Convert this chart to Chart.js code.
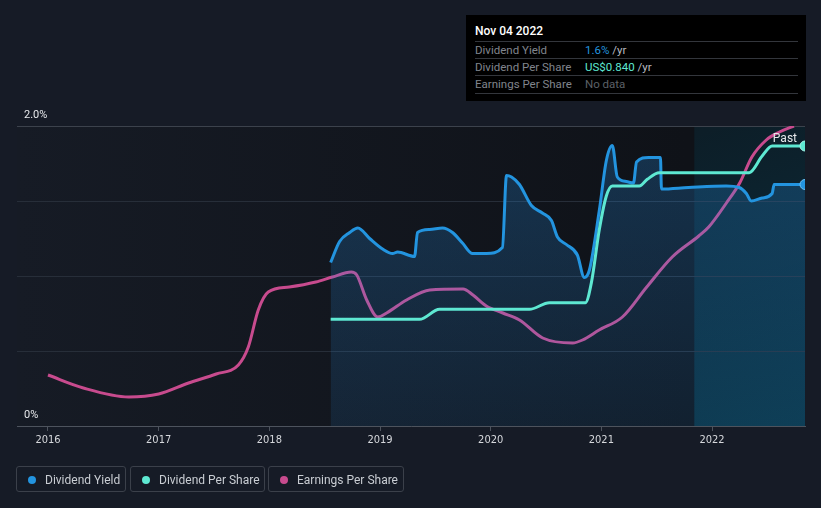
<!DOCTYPE html>
<html>
<head>
<meta charset="utf-8">
<script src="https://cdn.jsdelivr.net/npm/chart.js@4.4.1/dist/chart.umd.min.js"></script>
<style>
  body { margin: 0; background: #161b26; font-family: Roboto, "Noto Sans", sans-serif; }
  #wrap { position: relative; width: 821px; height: 508px; }
  #chart { position: absolute; left: 0; top: 0; }
  #tip { position: absolute; left: 466px; top: 15px; width: 340px; height: 86px; background: #000; }
  #tip .title { position: absolute; left: 9px; top: 9px; color: #fff; font-size: 12px; font-weight: 500; }
  #tip .row { position: absolute; left: 9px; width: 323px; height: 17px; border-top: 1px solid #33363c; font-size: 11.5px; line-height: 17px; }
  #tip .lab { position: absolute; left: 0; color: #80858d; }
  #tip .val { position: absolute; left: 110px; color: #b8bcc2; }
  .legend { position: absolute; top: 466px; height: 26px; border: 1px solid #3b404a; border-radius: 3px; color: #c9cdd3; font-size: 12px; line-height: 26px; box-sizing: border-box; }
  .legend i { position: absolute; left: 11px; top: 9px; width: 8px; height: 8px; border-radius: 50%; }
  .legend span { position: absolute; left: 28px; }
</style>
</head>
<body>
<div id="wrap">
  <canvas id="chart" width="821" height="508"></canvas>
  <div id="tip">
    <div class="title">Nov 04 2022</div>
    <div class="row" style="top:26px"><span class="lab">Dividend Yield</span><span class="val"><b style="font-weight:400;color:#2394df">1.6%</b> /yr</span></div>
    <div class="row" style="top:43px"><span class="lab">Dividend Per Share</span><span class="val"><b style="font-weight:400;color:#5ee8d2">US$0.840</b> /yr</span></div>
    <div class="row" style="top:60px; border-bottom:1px solid #33363c"><span class="lab">Earnings Per Share</span><span class="val" style="color:#5c6067">No data</span></div>
  </div>
  <div class="legend" style="left:16px;width:110px"><i style="background:#2394df"></i><span>Dividend Yield</span></div>
  <div class="legend" style="left:130px;width:135px"><i style="background:#5ee8d2"></i><span>Dividend Per Share</span></div>
  <div class="legend" style="left:268px;width:136px"><i style="background:#c84b8e"></i><span>Earnings Per Share</span></div>
</div>
<script>
// dividend yield (%)
const yieldYears = [2018.554, 2018.635, 2018.726, 2018.80, 2018.906, 2019.023, 2019.114, 2019.159, 2019.312, 2019.339,
  2019.448, 2019.565, 2019.655, 2019.745, 2019.836, 2019.962, 2020.106, 2020.143, 2020.188, 2020.26,
  2020.368, 2020.467, 2020.549, 2020.603, 2020.684, 2020.783, 2020.846, 2020.892, 2020.982, 2021.045,
  2021.099, 2021.144, 2021.226, 2021.29, 2021.318, 2021.426, 2021.534, 2021.543, 2021.787, 2022.128,
  2022.245, 2022.31, 2022.354, 2022.453, 2022.543, 2022.561, 2022.84];
const yieldValues = [1.09, 1.23, 1.29, 1.32, 1.25, 1.18, 1.15, 1.16, 1.13, 1.29,
  1.31, 1.32, 1.29, 1.22, 1.15, 1.15, 1.19, 1.67, 1.66, 1.61,
  1.47, 1.42, 1.37, 1.26, 1.21, 1.14, 0.99, 1.04, 1.44, 1.77,
  1.87, 1.66, 1.63, 1.62, 1.76, 1.79, 1.79, 1.58, 1.59, 1.60,
  1.59, 1.55, 1.50, 1.52, 1.55, 1.61, 1.61];

// dividend per share (US$)
const dpsYears = [2018.554, 2019.357, 2019.538, 2020.35, 2020.531, 2020.856, 2020.91, 2020.982, 2021.045, 2021.099,
  2021.343, 2021.415, 2021.523, 2022.336, 2022.453, 2022.543, 2022.84];
const dpsValues = [0.32, 0.32, 0.35, 0.35, 0.37, 0.37, 0.43, 0.59, 0.69, 0.72,
  0.72, 0.74, 0.76, 0.76, 0.81, 0.84, 0.84];

// earnings per share
const epsYears = [2016.00, 2016.32, 2016.73, 2017.00, 2017.27, 2017.52, 2017.72, 2017.81, 2017.90, 2017.99,
  2018.18, 2018.42, 2018.57, 2018.74, 2018.79, 2018.88, 2018.98, 2019.06, 2019.24, 2019.45,
  2019.75, 2019.84, 2019.96, 2020.11, 2020.26, 2020.47, 2020.74, 2020.83, 2020.98, 2021.19,
  2021.41, 2021.64, 2021.88, 2021.97, 2022.13, 2022.25, 2022.36, 2022.49, 2022.61, 2022.74];
const epsValues = [0.255, 0.19, 0.145, 0.16, 0.215, 0.26, 0.305, 0.395, 0.58, 0.67,
  0.695, 0.72, 0.745, 0.77, 0.755, 0.63, 0.545, 0.565, 0.63, 0.68,
  0.685, 0.655, 0.60, 0.565, 0.53, 0.44, 0.415, 0.43, 0.48, 0.545,
  0.695, 0.845, 0.95, 0.995, 1.115, 1.215, 1.345, 1.43, 1.47, 1.50];

const yearTicks = [2016, 2017, 2018, 2019, 2020, 2021, 2022];
const xStart = 2015.72;
const xEnd = 2022.84;
const pastStart = 2021.84;

function toPoints(xs, ys) {
  return xs.map((x, i) => ({ x: x, y: ys[i] }));
}

function lastPointRadius(ctx) {
  return ctx.dataIndex === ctx.dataset.data.length - 1 ? 5 : 0;
}

const backgrounds = {
  id: "backgrounds",
  beforeDraw(chart) {
    const { ctx, chartArea: a } = chart;
    ctx.save();
    ctx.fillStyle = "#161b26";
    ctx.fillRect(0, 0, chart.width, chart.height);
    let g = ctx.createLinearGradient(a.left, 0, a.right, 0);
    g.addColorStop(0, "#161b25");
    g.addColorStop(0.85, "#0f1218");
    ctx.fillStyle = g;
    ctx.fillRect(a.left, a.top, a.right - a.left, a.bottom - a.top);
    let px = chart.scales.x.getPixelForValue(pastStart);
    let g2 = ctx.createLinearGradient(px, a.top, a.right, a.bottom);
    g2.addColorStop(0, "rgba(0,90,120,0.16)");
    g2.addColorStop(1, "rgba(0,130,170,0.30)");
    ctx.fillStyle = g2;
    ctx.fillRect(px, a.top, a.right - px, a.bottom - a.top);
    ctx.restore();
  },
  afterDraw(chart) {
    const { ctx, chartArea: a } = chart;
    const y = chart.scales.y;
    ctx.save();
    ctx.fillStyle = "#e6e8eb";
    ctx.font = "11px Roboto, sans-serif";
    ctx.textBaseline = "alphabetic";
    ctx.fillText("2.0%", 24, y.getPixelForValue(2) - 8);
    ctx.fillText("0%", 24, y.getPixelForValue(0) - 8);
    ctx.textAlign = "right";
    ctx.font = "12px Roboto, sans-serif";
    ctx.fillText("Past", a.right - 8, a.top + 16);
    ctx.restore();
  }
};

new Chart(document.getElementById("chart"), {
  type: "line",
  data: {
    datasets: [
      {
        label: "Dividend Yield",
        data: toPoints(yieldYears, yieldValues),
        yAxisID: "y",
        borderColor: "#2394df",
        borderWidth: 3,
        pointRadius: lastPointRadius,
        pointBackgroundColor: "#2394df",
        pointBorderColor: "#6cc0f5",
        pointBorderWidth: 1,
        fill: "origin",
        backgroundColor: (ctx) => {
          const a = ctx.chart.chartArea;
          if (!a) return "rgba(40,150,240,0.2)";
          const g = ctx.chart.ctx.createLinearGradient(0, a.top, 0, a.bottom);
          g.addColorStop(0, "rgba(40,150,240,0.25)");
          g.addColorStop(1, "rgba(40,150,240,0.11)");
          return g;
        },
        cubicInterpolationMode: "monotone",
        order: 1
      },
      {
        label: "Dividend Per Share",
        data: toPoints(dpsYears, dpsValues),
        yAxisID: "y2",
        borderColor: "#5ee8d2",
        borderWidth: 3,
        pointRadius: lastPointRadius,
        pointBackgroundColor: "#5ee8d2",
        pointBorderColor: "#a5f3e6",
        pointBorderWidth: 1,
        fill: false,
        cubicInterpolationMode: "monotone",
        order: 0
      },
      {
        label: "Earnings Per Share",
        data: toPoints(epsYears, epsValues),
        yAxisID: "y3",
        borderColor: "#c84b8e",
        borderWidth: 3,
        pointRadius: 0,
        fill: false,
        cubicInterpolationMode: "monotone",
        order: 2
      }
    ]
  },
  options: {
    responsive: false,
    animation: false,
    events: [],
    layout: { padding: { left: 17, right: 16, top: 126, bottom: 60 } },
    plugins: { legend: { display: false }, tooltip: { enabled: false } },
    scales: {
      x: {
        type: "linear",
        min: xStart,
        max: xEnd,
        afterBuildTicks: (s) => { s.ticks = yearTicks.map(v => ({ value: v })); },
        afterFit: (s) => { s.height = 22; },
        ticks: {
          color: "#d6d8dc",
          font: { family: "'DejaVu Sans Condensed', 'Liberation Sans Narrow', Roboto, sans-serif", size: 11 },
          padding: 3,
          maxRotation: 0,
          callback: (v) => String(v)
        },
        grid: { drawOnChartArea: false, tickLength: 5, color: "#4d535d" },
        border: { color: "#4d535d", width: 1 }
      },
      y: {
        min: 0,
        max: 2,
        afterBuildTicks: (s) => { s.ticks = [0, 0.5, 1, 1.5, 2].map(v => ({ value: v })); },
        afterFit: (s) => { s.width = 0; },
        ticks: { display: false },
        border: { display: false },
        grid: {
          drawTicks: false,
          color: (ctx) => ctx.tick && ctx.tick.value === 2 ? "#3c424c" : "#272e39"
        }
      },
      y2: { display: false, min: 0, max: 0.9 },
      y3: { display: false, min: 0, max: 1.5 }
    }
  },
  plugins: [backgrounds]
});
</script>
</body>
</html>
